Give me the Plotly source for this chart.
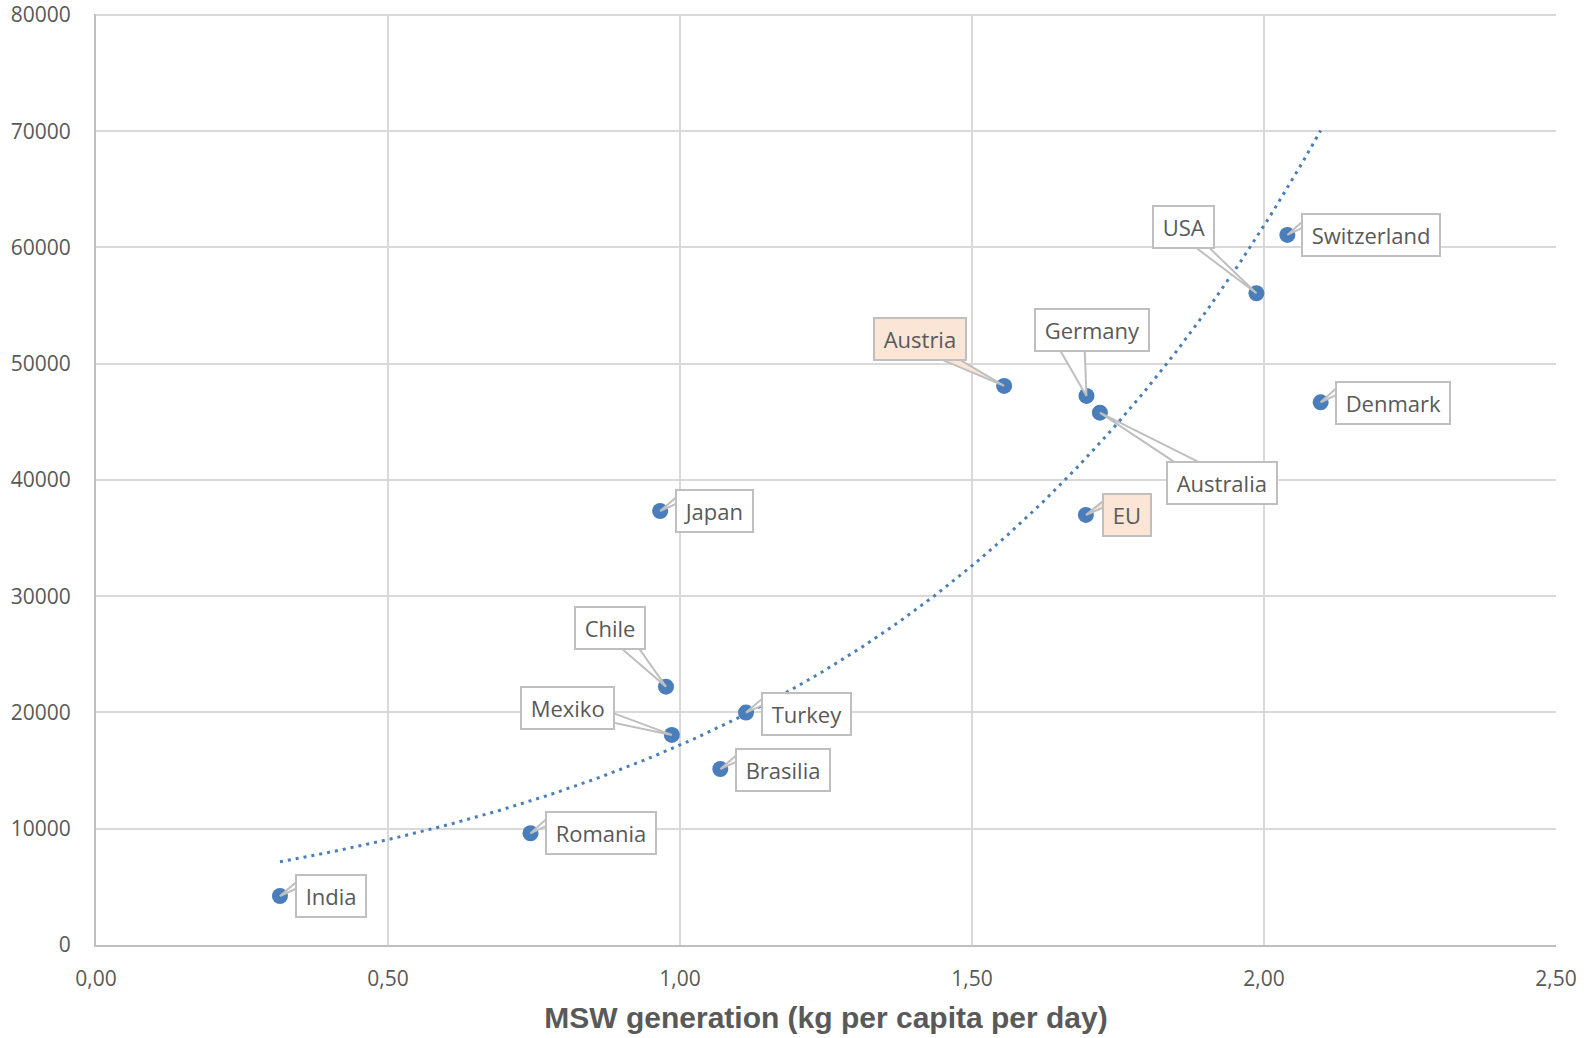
import numpy as np
import plotly.graph_objects as go

# Municipal solid waste generation vs. GDP per capita
countries = ["India", "Romania", "Brasilia", "Turkey", "Mexiko", "Chile", "Japan",
             "EU", "Austria", "Germany", "Australia", "USA", "Switzerland", "Denmark"]
msw_kg_per_day = [0.315, 0.744, 1.069, 1.113, 0.986, 0.976, 0.966,
                  1.695, 1.555, 1.696, 1.719, 1.987, 2.040, 2.097]
gdp_per_capita = [4215, 9610, 15140, 19990, 18070, 22220, 37330,
                  36990, 48090, 47230, 45790, 56060, 61080, 46680]
highlighted = ["Austria", "EU"]

x_ticks = [0.0, 0.5, 1.0, 1.5, 2.0, 2.5]
y_ticks = [0, 10000, 20000, 30000, 40000, 50000, 60000, 70000, 80000]

# Figure geometry
W, H = 1587, 1038
ML, MR, MT, MB = 96, 31, 14, 93
PLOT_W, PLOT_H = W - ML - MR, H - MT - MB
X_RANGE = [0, 2.5]
Y_RANGE = [0, 80080]
DX_PER_PX = (X_RANGE[1] - X_RANGE[0]) / PLOT_W
DY_PER_PX = (Y_RANGE[1] - Y_RANGE[0]) / PLOT_H

BLUE = "#4a7ebb"
GRID = "#d9d9d9"
AXIS = "#bfbfbf"
TEXT = "#595959"
PEACH = "#fbe5d6"
FONT = "Open Sans"

# Callout placement per label: box anchor, box offset (px, screen y down),
# and the two base corners of the wedge pointing at the marker.
callouts = {
    "India":       ("left",   15,   0, (20, -17), (20, -9)),
    "Romania":     ("left",   14,   0, (19, -17), (19, -9)),
    "Brasilia":    ("left",   15,   1, (20, -17), (20, -9)),
    "Turkey":      ("left",   15,   1, (20, -17), (20, -9)),
    "Japan":       ("left",   15,   0, (20, -17), (20, -9)),
    "EU":          ("left",   16,   0, (21, -17), (21, -9)),
    "Switzerland": ("left",   14,   0, (19, -17), (19, -9)),
    "Denmark":     ("left",   14,   1, (19, -17), (19, -9)),
    "Mexiko":      ("right", -57, -27, (-62, -23), (-62, -13)),
    "Chile":       ("center", -56, -59, (-51, -44), (-31, -44)),
    "Austria":     ("center", -84, -47, (-76, -32), (-54, -32)),
    "Germany":     ("center",   6, -66, (-30, -52), (-2, -52)),
    "Australia":   ("left",    66,  70, (83, 55), (110, 55)),
    "USA":         ("center", -73, -66, (-69, -52), (-54, -52)),
}

fig = go.Figure()

# Exponential trendline fitted on ln(y), spanning the x range of the data
xs = np.array(msw_kg_per_day)
ys = np.array(gdp_per_capita)
b, ln_a = np.polyfit(xs, np.log(ys), 1)
xt = np.linspace(xs.min(), xs.max(), 300)
yt = np.exp(ln_a) * np.exp(b * xt)
fig.add_trace(go.Scatter(
    x=xt, y=yt, mode="lines",
    line=dict(color=BLUE, width=3, dash="3px,5px"),
    hoverinfo="skip", showlegend=False,
))

fig.add_trace(go.Scatter(
    x=msw_kg_per_day, y=gdp_per_capita, mode="markers",
    marker=dict(color=BLUE, size=16),
    text=countries, showlegend=False,
))


def to_data(x0, y0, off):
    return x0 + off[0] * DX_PER_PX, y0 - off[1] * DY_PER_PX


HAIR = "\u2009"
# top border of the plot area, drawn like a gridline
shapes = [dict(type="line", layer="below", xref="x", yref="y",
               x0=x_ticks[0], x1=x_ticks[-1], y0=y_ticks[-1], y1=y_ticks[-1],
               line=dict(color=GRID, width=2))]
annotations = []
for name, x0, y0 in zip(countries, msw_kg_per_day, gdp_per_capita):
    anchor, dx, dy, b1, b2 = callouts[name]
    fill = PEACH if name in highlighted else "white"
    p1 = to_data(x0, y0, b1)
    p2 = to_data(x0, y0, b2)
    shapes.append(dict(
        type="path", layer="above",
        path=f"M {x0},{y0} L {p1[0]},{p1[1]} L {p2[0]},{p2[1]} Z",
        fillcolor=fill, line=dict(color=AXIS, width=2),
    ))
    annotations.append(dict(
        x=x0, y=y0, xref="x", yref="y", text=HAIR + name + HAIR, showarrow=False,
        xanchor=anchor, yanchor="middle", xshift=dx, yshift=-dy,
        font=dict(family=FONT, size=22, color=TEXT),
        bgcolor=fill, bordercolor=AXIS, borderwidth=2, borderpad=5,
    ))

fig.update_layout(
    width=W, height=H,
    margin=dict(l=ML, r=MR, t=MT, b=MB, pad=0),
    paper_bgcolor="white", plot_bgcolor="white",
    separators=", ",
    shapes=shapes, annotations=annotations,
    showlegend=False,
    font=dict(family=FONT, color=TEXT),
)
fig.update_xaxes(
    range=X_RANGE, tickvals=x_ticks, tickformat=".2f",
    showgrid=True, gridcolor=GRID, gridwidth=2,
    showline=True, linecolor=AXIS, linewidth=2,
    zeroline=False, ticks="", ticklabelstandoff=14, automargin=False,
    tickfont=dict(family=FONT, size=21, color=TEXT),
    title=dict(text="<b>MSW generation (kg per capita per day)</b>",
               font=dict(family="Liberation Sans", size=30, color=TEXT),
               standoff=16),
)
fig.update_yaxes(
    range=Y_RANGE, tickvals=y_ticks, tickformat="d",
    showgrid=True, gridcolor=GRID, gridwidth=2,
    showline=True, linecolor=AXIS, linewidth=2,
    zeroline=False, ticks="", ticklabelstandoff=19, automargin=False,
    tickfont=dict(family=FONT, size=21, color=TEXT),
)

fig.write_html("out.html")
